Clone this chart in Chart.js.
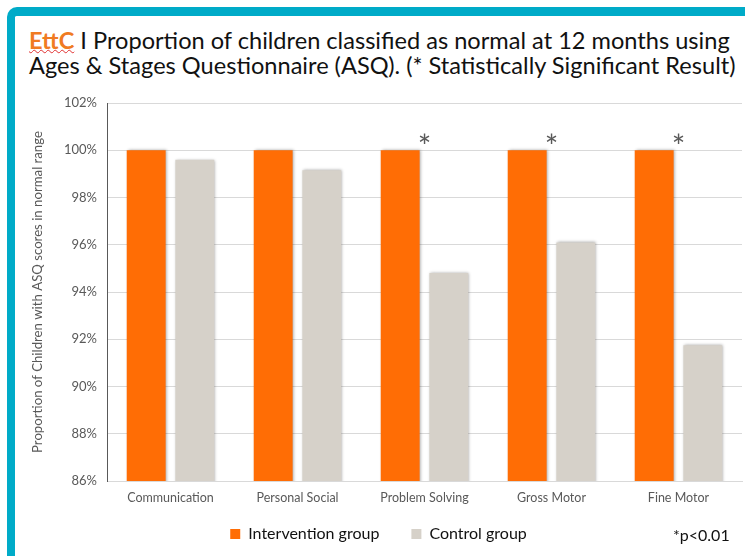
<!DOCTYPE html>
<html>
<head>
<meta charset="utf-8">
<script src="https://cdn.jsdelivr.net/npm/chart.js@4.4.0/dist/chart.umd.min.js"></script>
<style>
  html, body { margin: 0; padding: 0; background: #fff; }
  #wrap { position: relative; width: 745px; height: 556px; overflow: hidden; font-family: Lato, sans-serif; }
  #frame { position: absolute; left: 7px; top: 7px; right: -20px; bottom: -20px;
           border-left: 8px solid #00abc8; border-top: 9px solid #00abc8; border-top-left-radius: 10px; }
  #title { position: absolute; left: 29px; top: 28px; font-size: 23.6px; line-height: 25px; color: #111; white-space: nowrap; }
  #title b { color: #f07b22; text-decoration: underline wavy #e03030; text-decoration-thickness: 1px; text-underline-offset: 0px; }
  #note { position: absolute; left: 673px; top: 525px; font-size: 16px; color: #111; }
  canvas { position: absolute; left: 0; top: 0; }
</style>
</head>
<body>
<div id="wrap">
  <div id="frame"></div>
  <div id="title"><b>EttC</b> I Proportion of children classified as normal at 12 months using<br>Ages &amp; Stages Questionnaire (ASQ). (* Statistically Significant Result)</div>
  <canvas id="chart" width="745" height="556"></canvas>
  <div id="note">*p&lt;0.01</div>
</div>
<script>
// ── Data ───────────────────────────────────────────────
const categories   = ["Communication", "Personal Social", "Problem Solving", "Gross Motor", "Fine Motor"];
const intervention = [100, 100, 100, 100, 100];
const control      = [99.6, 99.15, 94.8, 96.1, 91.75];
const significant  = ["", "", "*", "*", "*"];
const yTicks       = [86, 88, 90, 92, 94, 96, 98, 100, 102];

const ORANGE = "#ff6d05";
const GREY   = "#d6d1c9";
const TICK   = "#595959";
const FONT   = "Lato, sans-serif";

// soft drop shadow behind the bars
const barShadow = {
  id: "barShadow",
  beforeDatasetsDraw(chart) {
    const c = chart.ctx;
    c.save();
    c.shadowColor = "rgba(0,0,0,0.35)";
    c.shadowBlur = 3;
    c.shadowOffsetX = 1;
    c.shadowOffsetY = 0;
  },
  afterDatasetsDraw(chart) { chart.ctx.restore(); }
};

// x tick labels sit low; let them spill past the thin axis box
const unclipTicks = {
  id: "unclipTicks",
  afterLayout(chart) { chart.scales.x.bottom = chart.height; }
};

// significance asterisks above each category
const sigMarks = {
  id: "sigMarks",
  afterDraw(chart) {
    const { ctx, scales: { x, y } } = chart;
    ctx.save();
    ctx.fillStyle = TICK;
    ctx.font = "32px " + FONT;
    ctx.textAlign = "center";
    ctx.textBaseline = "alphabetic";
    significant.forEach((s, i) => {
      if (!s) return;
      ctx.fillText(s, x.getPixelForValue(i), y.getPixelForValue(Math.max(intervention[i], control[i])) + 8);
    });
    ctx.restore();
  }
};

new Chart(document.getElementById("chart"), {
  type: "bar",
  data: {
    labels: categories,
    datasets: [
      { label: "Intervention group", data: intervention, backgroundColor: ORANGE },
      { label: "Control group",      data: control,      backgroundColor: GREY }
    ]
  },
  options: {
    responsive: false,
    animation: false,
    events: [],
    categoryPercentage: 0.766,
    barPercentage: 0.8,
    layout: { padding: { left: 15, right: 3, top: 103, bottom: 4 } },
    plugins: {
      tooltip: { enabled: false },
      legend: {
        position: "bottom",
        labels: {
          color: "#111",
          boxWidth: 10,
          boxHeight: 10,
          padding: 32,
          font: { family: FONT, size: 16 }
        }
      }
    },
    scales: {
      x: {
        grid: { display: false, drawTicks: false },
        border: { color: "#d9d9d9" },
        ticks: { color: TICK, padding: 9, font: { family: FONT, size: 12.5 } },
        afterFit: s => { s.height = 13; }
      },
      y: {
        min: 86, max: 102,
        afterBuildTicks: s => { s.ticks = yTicks.map(v => ({ value: v })); },
        grid: { color: "#d9d9d9", drawTicks: false },
        border: { color: "#595959" },
        ticks: { color: TICK, padding: 10, font: { family: FONT, size: 13 }, callback: v => v + "%" },
        title: {
          display: true,
          text: "Proportion of Children with ASQ scores in normal range",
          color: TICK,
          font: { family: FONT, size: 13.2 },
          padding: { top: 15, bottom: 0 }
        },
        afterFit: s => { s.width = 92; }
      }
    }
  },
  plugins: [barShadow, unclipTicks, sigMarks]
});
</script>
</body>
</html>
